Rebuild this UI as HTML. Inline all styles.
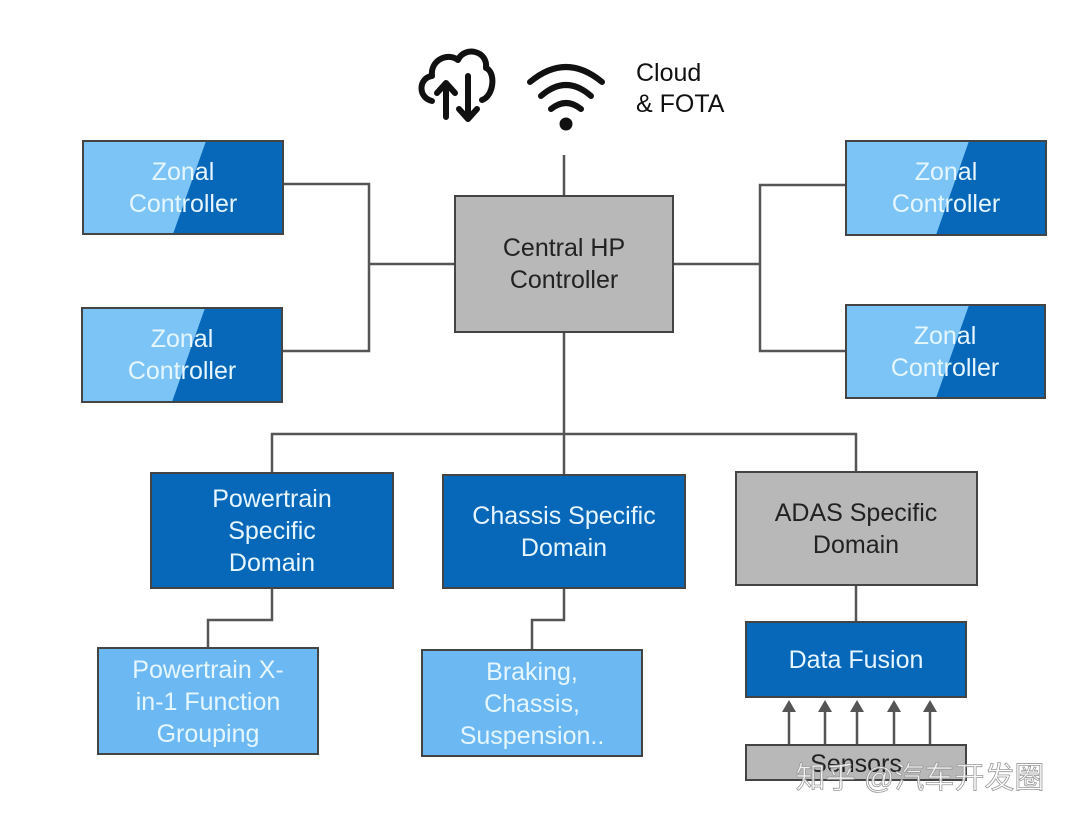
<!DOCTYPE html>
<html><head><meta charset="utf-8"><style>
html,body{margin:0;padding:0;background:#fff;width:1080px;height:823px;overflow:hidden}
text{font-family:"Liberation Sans","DejaVu Sans",sans-serif;font-size:25px;text-anchor:middle}
.w{fill:#e6f6ff}
.k{fill:#222}
</style></head><body>
<svg width="1080" height="823" viewBox="0 0 1080 823" xmlns="http://www.w3.org/2000/svg">
<g stroke="#555" stroke-width="2.5" fill="none">
<path d="M283,184 H369 V351 H282 M369,264 H455"/>
<path d="M673,264 H760 V185 H846 M760,264 V351 H846"/>
<path d="M564,155 V196"/>
<path d="M564,332 V475 M272,473 V434 H856 V472"/>
<path d="M272,588 V620 H208 V648"/>
<path d="M564,588 V620 H532 V650"/>
<path d="M856,585 V622"/>
</g>
<g stroke="#555" stroke-width="2.5">
<line x1="789" y1="745" x2="789" y2="708"/><line x1="825" y1="745" x2="825" y2="708"/><line x1="857" y1="745" x2="857" y2="708"/><line x1="894" y1="745" x2="894" y2="708"/><line x1="930" y1="745" x2="930" y2="708"/>
</g>
<g fill="#555">
<path d="M782,712 L789,700 L796,712Z"/><path d="M818,712 L825,700 L832,712Z"/><path d="M850,712 L857,700 L864,712Z"/><path d="M887,712 L894,700 L901,712Z"/><path d="M923,712 L930,700 L937,712Z"/>
</g>
<g stroke="#444" stroke-width="2">
<g transform="translate(83,141)"><rect width="200" height="93" fill="#0767b8"/><path d="M0,0 H123 L90,93 H0Z" fill="#7cc4f6" stroke="none"/><rect width="200" height="93" fill="none"/></g>
<g transform="translate(82,308)"><rect width="200" height="94" fill="#0767b8"/><path d="M0,0 H123 L90,94 H0Z" fill="#7cc4f6" stroke="none"/><rect width="200" height="94" fill="none"/></g>
<g transform="translate(846,141)"><rect width="200" height="94" fill="#0767b8"/><path d="M0,0 H123 L90,94 H0Z" fill="#7cc4f6" stroke="none"/><rect width="200" height="94" fill="none"/></g>
<g transform="translate(846,305)"><rect width="199" height="93" fill="#0767b8"/><path d="M0,0 H123 L90,93 H0Z" fill="#7cc4f6" stroke="none"/><rect width="199" height="93" fill="none"/></g>
<rect x="455" y="196" width="218" height="136" fill="#b8b8b8"/>
<rect x="151" y="473" width="242" height="115" fill="#0767b8"/>
<rect x="443" y="475" width="242" height="113" fill="#0767b8"/>
<rect x="736" y="472" width="241" height="113" fill="#b8b8b8"/>
<rect x="98" y="648" width="220" height="106" fill="#6cb8f2"/>
<rect x="422" y="650" width="220" height="106" fill="#6cb8f2"/>
<rect x="746" y="622" width="220" height="75" fill="#0767b8"/>
<rect x="746" y="745" width="220" height="35" fill="#b8b8b8"/>
</g>
<text class="w" x="183" y="180">Zonal</text><text class="w" x="183" y="212">Controller</text>
<text class="w" x="182" y="347">Zonal</text><text class="w" x="182" y="379">Controller</text>
<text class="w" x="946" y="180">Zonal</text><text class="w" x="946" y="212">Controller</text>
<text class="w" x="945" y="344">Zonal</text><text class="w" x="945" y="376">Controller</text>
<text class="k" x="564" y="256">Central HP</text><text class="k" x="564" y="288">Controller</text>
<text class="w" x="272" y="507">Powertrain</text><text class="w" x="272" y="539">Specific</text><text class="w" x="272" y="571">Domain</text>
<text class="w" x="564" y="524">Chassis Specific</text><text class="w" x="564" y="556">Domain</text>
<text class="k" x="856" y="521">ADAS Specific</text><text class="k" x="856" y="553">Domain</text>
<text class="w" x="208" y="678">Powertrain X-</text><text class="w" x="208" y="710">in-1 Function</text><text class="w" x="208" y="742">Grouping</text>
<text class="w" x="532" y="680">Braking,</text><text class="w" x="532" y="712">Chassis,</text><text class="w" x="532" y="744">Suspension..</text>
<text class="w" x="856" y="668">Data Fusion</text>
<text class="k" x="856" y="772">Sensors</text>
<text x="920" y="788" style="font-family:'Liberation Sans','Noto Sans CJK SC',sans-serif;font-size:30px;fill:#fff;fill-opacity:.8;stroke:#999;stroke-width:.8">知乎 @汽车开发圈</text>
<g fill="none" stroke="#111" stroke-width="6" stroke-linecap="round" stroke-linejoin="round">
<path d="M432,101 C418,98 418,78 432,76 C430,60 448,52 458,60 C464,46 488,50 486,68 C496,72 494,96 482,100"/>
<path d="M446,117 V84 M437,93 L446,83 L455,93"/>
<path d="M468,76 V118 M459,109 L468,119 L477,109"/>
<path d="M530,82 Q566,52 602,82"/>
<path d="M541,96 Q566,74 591,96"/>
<path d="M551,109 Q566,97 581,109"/>
</g>
<circle cx="566" cy="124" r="6.5" fill="#111"/>
<text x="636" y="81" style="text-anchor:start;fill:#111;font-size:25px">Cloud</text>
<text x="636" y="112" style="text-anchor:start;fill:#111;font-size:25px">&amp; FOTA</text>
</svg>
</body></html>
